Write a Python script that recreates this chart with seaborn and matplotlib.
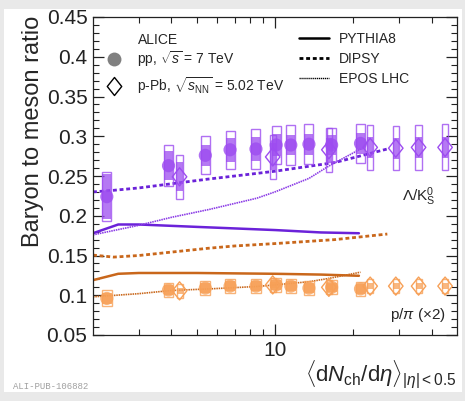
import numpy as np
import pandas as pd
import seaborn as sns
import matplotlib
matplotlib.use("Agg")
import matplotlib.pyplot as plt
from matplotlib.patches import Rectangle
from matplotlib.lines import Line2D
from matplotlib.path import Path
from matplotlib.ticker import FixedLocator, NullFormatter, MultipleLocator, FixedFormatter

# ---------------- data ----------------
pp_x = [2.26, 3.90, 5.40, 6.72, 8.45, 10.1, 11.5, 13.5, 16.5, 21.3]
pp_lk = [0.224, 0.263, 0.276, 0.283, 0.284, 0.289, 0.289, 0.290, 0.289, 0.291]
pp_lk_tot = [0.031, 0.026, 0.024, 0.024, 0.025, 0.024, 0.025, 0.025, 0.022, 0.025]
pp_lk_unc = [0.028, 0.018, 0.013, 0.015, 0.015, 0.014, 0.013, 0.013, 0.013, 0.013]
pp_ppi = [0.096, 0.1066, 0.109, 0.1115, 0.1115, 0.113, 0.1115, 0.109, 0.110, 0.108]
pp_ppi_tot = [0.010, 0.009, 0.009, 0.009, 0.009, 0.009, 0.009, 0.009, 0.009, 0.009]
pp_ppi_unc = [0.007, 0.006, 0.006, 0.006, 0.006, 0.006, 0.006, 0.006, 0.006, 0.006]

ppb_x = [4.3, 9.8, 16.1, 23.2, 29.1, 35.6, 45.0]
ppb_lk = [0.249, 0.274, 0.283, 0.286, 0.285, 0.286, 0.286]
ppb_lk_tot = [0.028, 0.028, 0.028, 0.028, 0.028, 0.028, 0.029]
ppb_lk_unc = [0.018, 0.017, 0.015, 0.013, 0.013, 0.013, 0.013]
ppb_ppi = [0.1055, 0.113, 0.110, 0.1115, 0.1115, 0.1115, 0.1115]
ppb_ppi_tot = [0.009, 0.009, 0.009, 0.009, 0.009, 0.009, 0.009]
ppb_ppi_unc = [0.004, 0.004, 0.004, 0.004, 0.004, 0.004, 0.004]

pythia_x = [2, 2.5, 3, 5, 10, 15, 21]
pythia_lk = [0.178, 0.189, 0.189, 0.186, 0.182, 0.179, 0.178]
pythia_ppi = [0.119, 0.127, 0.128, 0.128, 0.127, 0.126, 0.1245]

dipsy_x = [2, 2.4, 3, 5.5, 7, 10, 17, 27]
dipsy_lk = [0.230, 0.232, 0.235, 0.246, 0.250, 0.256, 0.267, 0.284]
dipsy_ppi = [0.1505, 0.148, 0.150, 0.159, 0.162, 0.165, 0.170, 0.177]

epos_x = [2, 3, 4, 5.6, 8.5, 10, 13.5, 16, 21.3]
epos_lk = [0.176, 0.188, 0.198, 0.208, 0.222, 0.230, 0.247, 0.262, 0.284]
epos_ppi = [0.098, 0.102, 0.106, 0.108, 0.111, 0.113, 0.117, 0.121, 0.129]

x_ticks_major = [10]
x_tick_labels = ["10"]
y_ticks = [0.05, 0.1, 0.15, 0.2, 0.25, 0.3, 0.35, 0.4, 0.45]
y_tick_labels = ["0.05", "0.1", "0.15", "0.2", "0.25", "0.3", "0.35", "0.4", "0.45"]

# ---------------- style ----------------
sns.set_theme(style="ticks")
plt.rcParams["font.family"] = ["Liberation Sans", "DejaVu Sans"]
plt.rcParams["mathtext.fontset"] = "custom"
plt.rcParams["mathtext.rm"] = "Liberation Sans"
plt.rcParams["mathtext.it"] = "Liberation Sans:italic"
plt.rcParams["mathtext.bf"] = "Liberation Sans:bold"

PURPLE_L = "#6b22d9"
PURPLE_E = "#8a3ae6"
PURPLE_M = "#9d4cf0"
ORANGE_L = "#c9671b"
ORANGE_M = "#f7a057"

fig = plt.figure(figsize=(4.65, 4.01), dpi=100)
fig.patch.set_facecolor("#e9e9e9")
fig.patches.append(Rectangle((4 / 465, 9 / 401), 458 / 465, 383 / 401,
                             transform=fig.transFigure, facecolor="white",
                             edgecolor="none", zorder=-10))
ax = fig.add_axes([93 / 465, (401 - 335) / 401, 364 / 465, 318 / 401])
ax.set_zorder(1)
ax.set_xscale("log")

# ---------------- model curves ----------------
for xs, ys, col in [(pythia_x, pythia_lk, PURPLE_L), (pythia_x, pythia_ppi, ORANGE_L)]:
    sns.lineplot(x=xs, y=ys, color=col, lw=1.8, ax=ax, zorder=2)
for xs, ys, col in [(dipsy_x, dipsy_lk, PURPLE_L), (dipsy_x, dipsy_ppi, ORANGE_L)]:
    sns.lineplot(x=xs, y=ys, color=col, lw=2.0, ax=ax, zorder=2, dashes=(1.4, 1.0))
for xs, ys, col in [(epos_x, epos_lk, PURPLE_E), (epos_x, epos_ppi, ORANGE_L)]:
    sns.lineplot(x=xs, y=ys, color=col, lw=1.2, ax=ax, zorder=2, dashes=(0.9, 0.5))

# ---------------- systematic boxes ----------------
def boxes(xs, ys, tot, unc, col, hw_px):
    hw = hw_px / 262.0
    for x, y, t, u in zip(xs, ys, tot, unc):
        x0, x1 = x * 10 ** (-hw), x * 10 ** (hw)
        ax.add_patch(Rectangle((x0, y - u), x1 - x0, 2 * u, facecolor=col,
                               edgecolor="none", alpha=0.75, zorder=3))
        ax.add_patch(Rectangle((x0, y - t), x1 - x0, 2 * t, facecolor="none",
                               edgecolor=col, lw=1.0, alpha=0.8, zorder=3))

boxes(pp_x, pp_lk, pp_lk_tot, pp_lk_unc, PURPLE_M, 4.5)
boxes(ppb_x, ppb_lk, ppb_lk_tot, ppb_lk_unc, PURPLE_M, 3.2)
boxes(pp_x, pp_ppi, pp_ppi_tot, pp_ppi_unc, ORANGE_M, 5.0)
boxes(ppb_x, ppb_ppi, ppb_ppi_tot, ppb_ppi_unc, ORANGE_M, 3.0)

# ---------------- markers ----------------
diamond = Path([(0, 1), (0.8, 0), (0, -1), (-0.8, 0), (0, 1)],
               [Path.MOVETO, Path.LINETO, Path.LINETO, Path.LINETO, Path.CLOSEPOLY])

sns.scatterplot(x=pp_x, y=pp_lk, marker="o", s=90, color=PURPLE_M,
                edgecolor="none", alpha=0.8, ax=ax, zorder=4)
sns.scatterplot(x=pp_x, y=pp_ppi, marker="o", s=90, color=ORANGE_M,
                edgecolor="none", alpha=0.8, ax=ax, zorder=4)
sns.scatterplot(x=ppb_x, y=ppb_lk, marker=diamond, s=170, facecolor="none",
                edgecolor=PURPLE_M, linewidth=1.0, ax=ax, zorder=5)
sns.scatterplot(x=ppb_x, y=ppb_ppi, marker=diamond, s=170, facecolor="none",
                edgecolor=ORANGE_M, linewidth=1.0, ax=ax, zorder=5)

# ---------------- axes ----------------
ax.set_xlim(2, 50)
ax.set_ylim(0.05, 0.45)
ax.xaxis.set_major_locator(FixedLocator(x_ticks_major))
ax.xaxis.set_major_formatter(FixedFormatter(x_tick_labels))
minors = [m * d for d in (1, 10) for m in range(2, 10) if 2 < m * d < 50 and m * d != 10]
ax.xaxis.set_minor_locator(FixedLocator(minors))
ax.xaxis.set_minor_formatter(NullFormatter())
ax.set_yticks(y_ticks)
ax.set_yticklabels(y_tick_labels)
ax.yaxis.set_minor_locator(MultipleLocator(0.01))
ax.tick_params(which="both", direction="in", top=True, right=True, colors="#222222")
ax.tick_params(which="major", length=8, width=0.9, labelsize=15, pad=4)
ax.tick_params(which="minor", length=4, width=0.8)
for sp in ax.spines.values():
    sp.set_linewidth(0.9)
    sp.set_color("#222222")

ax.set_ylabel("Baryon to meson ratio", fontsize=17)
ax.yaxis.set_label_coords(-0.135, 0.64)
ax.set_xlabel(r"$\langle\mathrm{d}N_{\mathrm{ch}}/\mathrm{d}\eta\rangle_{|\eta|< 0.5}$",
              fontsize=16, ha="right")
ax.xaxis.set_label_coords(1.0, -0.075)

# ---------------- annotations ----------------
ax.text(0.849, 0.421, r"$\Lambda/\mathrm{K}^0_\mathrm{S}$", transform=ax.transAxes,
        fontsize=11, ha="left", va="baseline")
ax.text(0.816, 0.05, r"p/$\pi$ ($\times$2)", transform=ax.transAxes,
        fontsize=11, ha="left", va="baseline")
ax.text((138 - 93) / 364, (335 - 44) / 318, "ALICE", transform=ax.transAxes,
        fontsize=10, ha="left", va="baseline")
fig.text(13 / 465, 1 - 389 / 401, "ALI-PUB-106882", fontsize=6.5,
         family="Liberation Mono", color="#a0a0a0", ha="left", va="baseline")

# ---------------- legends ----------------
h1 = [Line2D([], [], ls="none", marker="o", ms=10, color="#808080", mec="none"),
      Line2D([], [], ls="none", marker=diamond, ms=13, mfc="none", mec="black", mew=1.0)]
l1 = ax.legend(h1, [r"pp, $\sqrt{s}$ = 7 TeV", r"p-Pb, $\sqrt{s_{\mathrm{NN}}}$ = 5.02 TeV"],
               loc="upper left", bbox_to_anchor=(0.03, (335 - 49) / 318),
               frameon=False, fontsize=10, borderpad=0,
               borderaxespad=0, handletextpad=0.85, labelspacing=0.45, handlelength=1.5)
ax.add_artist(l1)
h2 = [Line2D([], [], color="black", lw=1.8),
      Line2D([], [], color="black", lw=2.0, dashes=(1.4, 1.0)),
      Line2D([], [], color="black", lw=1.0, dashes=(0.9, 0.5))]
ax.legend(h2, ["PYTHIA8", "DIPSY", "EPOS LHC"], loc="upper left",
          bbox_to_anchor=(0.565, 0.953), frameon=False, fontsize=10, borderpad=0,
          borderaxespad=0, handlelength=2.2, handletextpad=0.7, labelspacing=0.42)

fig.savefig("out.png", dpi=100, facecolor=fig.get_facecolor())
